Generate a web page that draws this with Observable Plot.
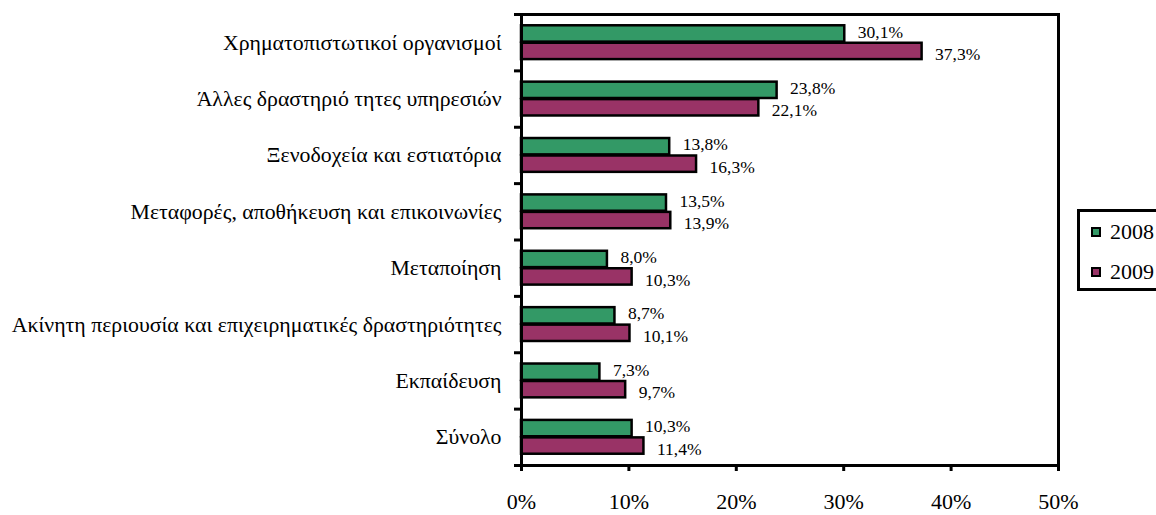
<!DOCTYPE html>
<html>
<head>
<meta charset="utf-8">
<script src="https://cdn.jsdelivr.net/npm/d3@7"></script>
<script src="https://cdn.jsdelivr.net/npm/@observablehq/plot@0.6"></script>
<style>
  html, body { margin: 0; padding: 0; background: #fff; }
  #wrap { position: relative; width: 1156px; height: 515px; overflow: hidden; font-family: "Liberation Serif", "DejaVu Serif", serif; }
  #wrap svg text { font-family: "Liberation Serif", "DejaVu Serif", serif; }
  #legend { position: absolute; left: 1077px; top: 209px; width: 100px; height: 76px; border: 3px solid #000; background: #fff; }
  .item { position: absolute; left: 11px; height: 22px; display: flex; align-items: center; font-size: 22px; color: #000; }
  .sw { width: 6px; height: 6px; border: 2px solid #000; margin-right: 9px; flex: none; }
</style>
</head>
<body>
<div id="wrap"></div>
<script>
const categories = [
  "Χρηματοπιστωτικοί οργανισμοί",
  "Άλλες δραστηριό τητες υπηρεσιών",
  "Ξενοδοχεία και εστιατόρια",
  "Μεταφορές, αποθήκευση και επικοινωνίες",
  "Μεταποίηση",
  "Ακίνητη περιουσία και επιχειρηματικές δραστηριότητες",
  "Εκπαίδευση",
  "Σύνολο"
];
const values2008 = [30.1, 23.8, 13.8, 13.5, 8.0, 8.7, 7.3, 10.3];
const values2009 = [37.3, 22.1, 16.3, 13.9, 10.3, 10.1, 9.7, 11.4];
const years = ["2008", "2009"];
const xTicks = [0, 10, 20, 30, 40, 50];
const colors = ["#339966", "#993366"];

const rows2008 = categories.map((c, i) => ({i, c, v: values2008[i]}));
const rows2009 = categories.map((c, i) => ({i, c, v: values2009[i]}));
const fmt = v => d3.format(".1f")(v).replace(".", ",") + "%";

const font = '"Liberation Serif", "DejaVu Serif", serif';

const chart = Plot.plot({
  width: 1156,
  height: 515,
  marginLeft: 521,
  marginRight: 98,
  marginTop: 14,
  marginBottom: 50,
  style: {fontFamily: font, color: "#000", background: "#fff"},
  x: {domain: [0, 50]},
  y: {domain: [0, 8], reverse: true},
  marks: [
    Plot.rect(rows2008, {x1: 0, x2: "v", y1: d => d.i + 0.2, y2: d => d.i + 0.49, fill: colors[0], stroke: "#000", strokeWidth: 2.5}),
    Plot.rect(rows2009, {x1: 0, x2: "v", y1: d => d.i + 0.51, y2: d => d.i + 0.8, fill: colors[1], stroke: "#000", strokeWidth: 2.5}),
    Plot.text(rows2008, {x: "v", y: d => d.i + 0.345, text: d => fmt(d.v), dx: 13, dy: -2, textAnchor: "start", fontSize: 17.5, fill: "#000", fontFamily: font}),
    Plot.text(rows2009, {x: "v", y: d => d.i + 0.655, text: d => fmt(d.v), dx: 13, dy: 3, textAnchor: "start", fontSize: 17.5, fill: "#000", fontFamily: font}),
    Plot.frame({stroke: "#000", strokeWidth: 3}),
    Plot.axisX({ticks: xTicks, tickSize: 6, strokeWidth: 3, tickPadding: 22, tickFormat: d => d + "%", fontSize: 22, label: null, fontFamily: font}),
    Plot.axisY({ticks: d3.range(0, 9), tickSize: 7, strokeWidth: 3, tickFormat: () => "", label: null}),
    Plot.axisY({ticks: categories.map((c, i) => i + 0.5), tickSize: 0, tickPadding: 20, tickFormat: t => categories[Math.round(t - 0.5)], fontSize: 21.8, label: null, fontFamily: font})
  ]
});

const wrap = document.getElementById("wrap");
wrap.appendChild(chart);

const legend = document.createElement("div");
legend.id = "legend";
years.forEach((y, k) => {
  const it = document.createElement("div");
  it.className = "item";
  it.style.top = (9 + k * 40) + "px";
  const sw = document.createElement("span");
  sw.className = "sw";
  sw.style.background = colors[k];
  const tx = document.createElement("span");
  tx.textContent = y;
  it.appendChild(sw);
  it.appendChild(tx);
  legend.appendChild(it);
});
wrap.appendChild(legend);
</script>
</body>
</html>
